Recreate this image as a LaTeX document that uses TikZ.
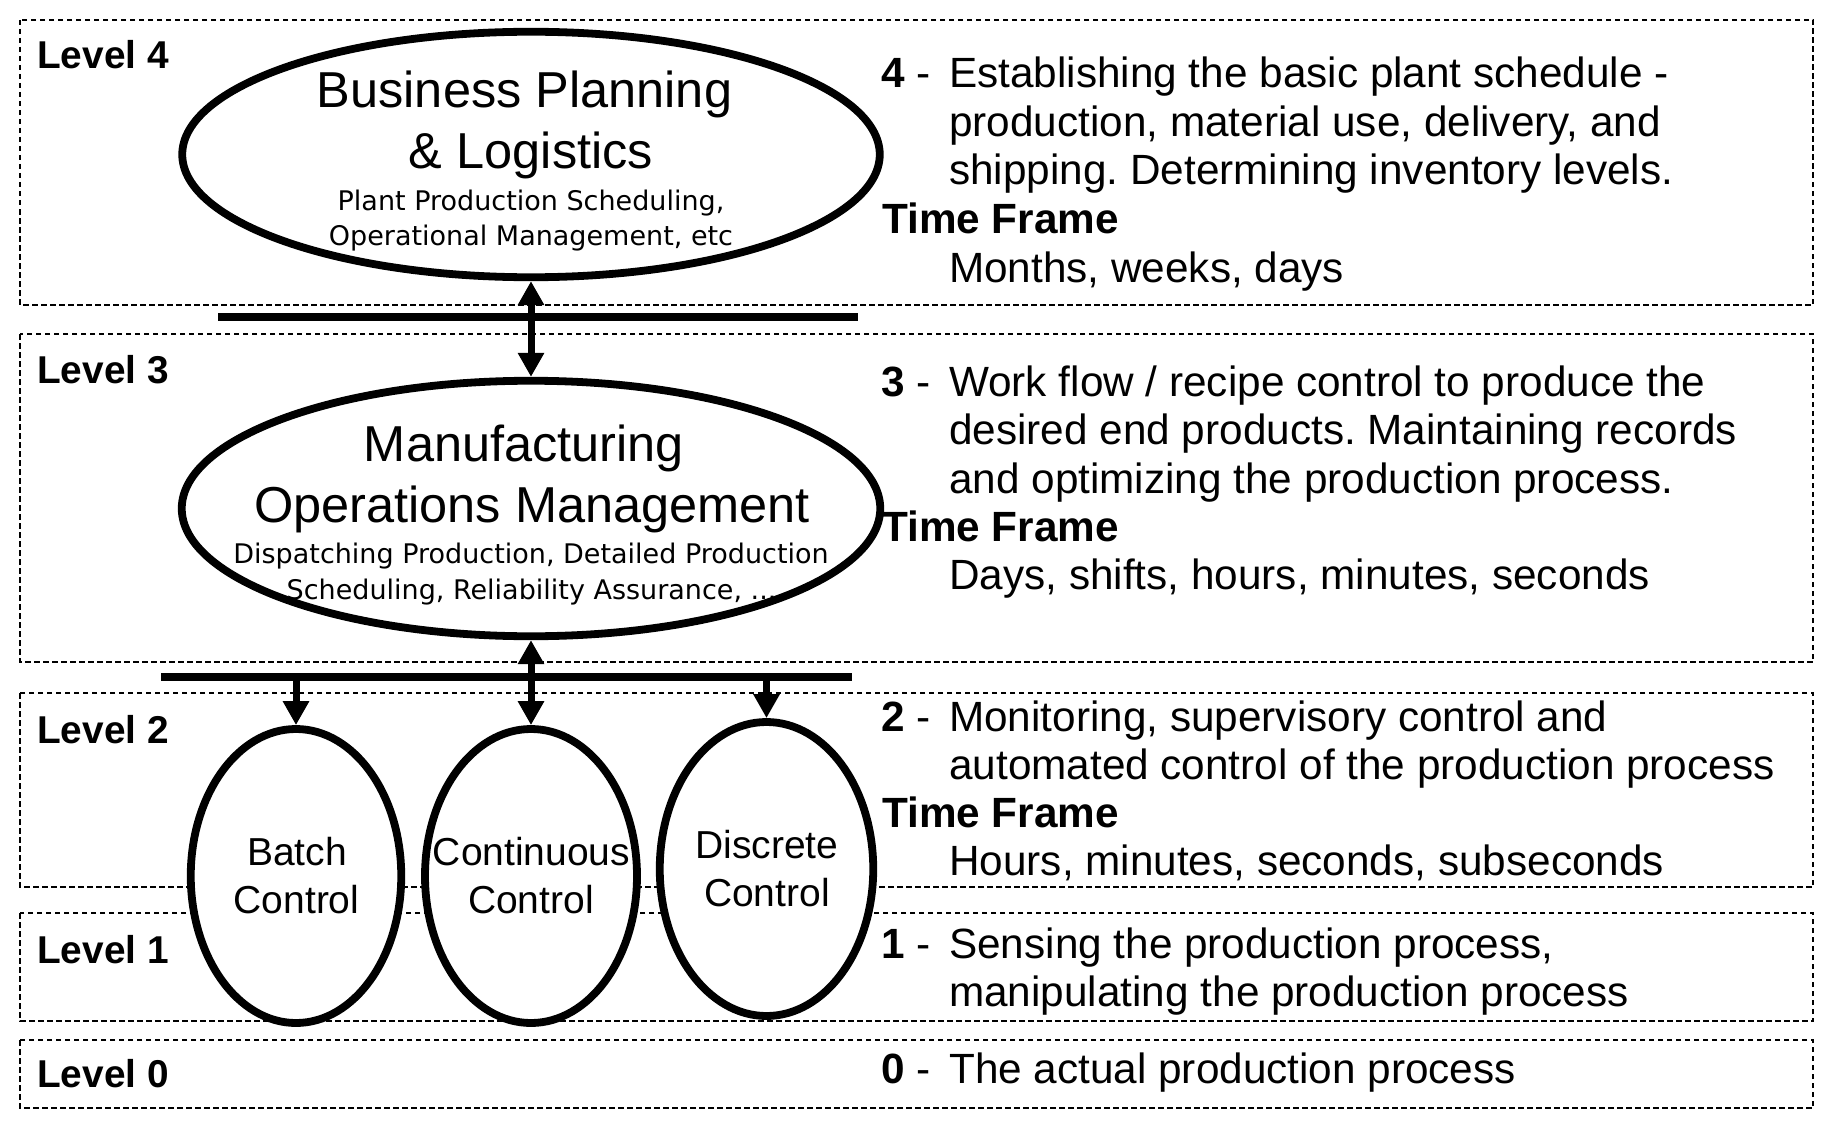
\documentclass[tikz,border=0pt]{standalone}
\usepackage{fontspec}
\setmainfont{Liberation Sans}
\newfontfamily\tahomalike{DejaVu Sans}
\usetikzlibrary{shapes.geometric,arrows.meta}
\frenchspacing
\begin{document}
\frenchspacing
\begin{tikzpicture}[x=1pt,y=-1pt,
  levelbox/.style={draw, line width=1.6pt, dash pattern=on 5.5pt off 3.5pt},
  oval/.style={ellipse, draw, fill=white, line width=7.8pt, inner sep=0pt},
  bar/.style={fill=black, inner sep=0pt, outer sep=0pt, minimum height=8pt},
  conn/.style={line width=7pt},
  >={Triangle[length=24pt,width=25pt]},
  bigtxt/.style={anchor=base, inner sep=0pt, font=\fontsize{50.5}{60}\selectfont},
  smalltxt/.style={anchor=base, inner sep=0pt, font=\tahomalike\fontsize{27}{34}\selectfont},
  ctrltxt/.style={anchor=base, inner sep=0pt, font=\fontsize{39}{48}\selectfont},
  lvl/.style={anchor=base west, inner sep=0pt, font=\bfseries\fontsize{38.8}{46}\selectfont},
  rtxt/.style={anchor=base west, inner sep=0pt, font=\fontsize{42.3}{48}\selectfont},
  rbold/.style={anchor=base west, inner sep=0pt, font=\bfseries\fontsize{42.3}{48}\selectfont}
]
\useasboundingbox (0,0) rectangle (1830,1126);
\fill[white] (0,0) rectangle (1830,1126);

% level boxes
\draw[levelbox] (20,20) rectangle (1813,305);
\draw[levelbox] (20,334) rectangle (1813,662);
\draw[levelbox] (20,693) rectangle (1813,887);
\draw[levelbox] (20,913) rectangle (1813,1021);
\draw[levelbox] (20,1040) rectangle (1813,1108);

% level labels
\node[lvl] (lv4) at (37,69) {Level 4};
\node[lvl] (lv3) at (37,383) {Level 3};
\node[lvl] (lv2) at (37,743) {Level 2};
\node[lvl] (lv1) at (37,963) {Level 1};
\node[lvl] (lv0) at (37,1087) {Level 0};

% bars
\node[bar, minimum width=640pt] (bar1) at (538,317) {};
\node[bar, minimum width=691pt] (bar2) at (506.5,677) {};

% ellipses
\node[oval, minimum width=697.5pt, minimum height=245.5pt] (bpl) at (531,154.5) {};
\node[oval, minimum width=698.5pt, minimum height=255.5pt] (mom) at (531,508.5) {};
\node[oval, minimum width=210.5pt, minimum height=294pt] (batch) at (296,876) {};
\node[oval, minimum width=212pt, minimum height=294pt] (cont) at (531,876) {};
\node[oval, minimum width=213.5pt, minimum height=294pt] (disc) at (766.5,869) {};

% connectors
\draw[conn,<->] (bpl.south) -- (mom.north);
\draw[conn,<->] (mom.south) -- (cont.north);
\draw[conn,->] (bar2.center -| batch.north) -- (batch.north);
\draw[conn,->] (bar2.center -| disc.north) -- (disc.north);

% ellipse texts
\node[bigtxt] (bpl1) at (524.5,108) {Business Planning};
\node[bigtxt] (bpl2) at (531,169) {\& Logistics};
\node[smalltxt] (bpl3) at (531,211) {Plant Production Scheduling,};
\node[smalltxt] (bpl4) at (531,245) {Operational Management, etc};

\node[bigtxt] (mom1) at (524,461) {Manufacturing};
\node[bigtxt] (mom2) at (532,522) {Operations Management};
\node[smalltxt] (mom3) at (531,563) {Dispatching Production, Detailed Production};
\node[smalltxt] (mom4) at (531.5,599) {Scheduling, Reliability Assurance, ...};

\node[ctrltxt] (bat1) at (297,865) {Batch};
\node[ctrltxt] (bat2) at (296.5,913) {Control};
\node[ctrltxt] (con1) at (531.5,865) {Continuous};
\node[ctrltxt] (con2) at (531,913) {Control};
\node[ctrltxt] (dis1) at (767,858) {Discrete};
\node[ctrltxt] (dis2) at (767,906) {Control};

% right column: level 4
\node[rtxt] (n4) at (881,88) {\textbf{4} -};
\node[rtxt] (r4a) at (949,88) {Establishing the basic plant schedule -};
\node[rtxt] (r4b) at (949,136.5) {production, material use, delivery, and};
\node[rtxt] (r4c) at (949,185) {shipping. Determining inventory levels.};
\node[rbold] (tf4) at (882,233.5) {Time Frame};
\node[rtxt] (r4d) at (949,282) {Months, weeks, days};

% level 3
\node[rtxt] (n3) at (881,396) {\textbf{3} -};
\node[rtxt] (r3a) at (949,396) {Work flow / recipe control to produce the};
\node[rtxt] (r3b) at (949,444) {desired end products. Maintaining records};
\node[rtxt] (r3c) at (949,493) {and optimizing the production process.};
\node[rbold] (tf3) at (882,541) {Time Frame};
\node[rtxt] (r3d) at (949,589) {Days, shifts, hours, minutes, seconds};

% level 2
\node[rtxt] (n2) at (881,731) {\textbf{2} -};
\node[rtxt] (r2a) at (949,731) {Monitoring, supervisory control and};
\node[rtxt] (r2b) at (949,779) {automated control of the production process};
\node[rbold] (tf2) at (882,827) {Time Frame};
\node[rtxt] (r2d) at (949,875) {Hours, minutes, seconds, subseconds};

% level 1
\node[rtxt] (n1) at (881,958) {\textbf{1} -};
\node[rtxt] (r1a) at (949,958) {Sensing the production process,};
\node[rtxt] (r1b) at (949,1006) {manipulating the production process};

% level 0
\node[rtxt] (n0) at (881,1083) {\textbf{0} -};
\node[rtxt] (r0a) at (949,1083) {The actual production process};
\end{tikzpicture}
\end{document}
